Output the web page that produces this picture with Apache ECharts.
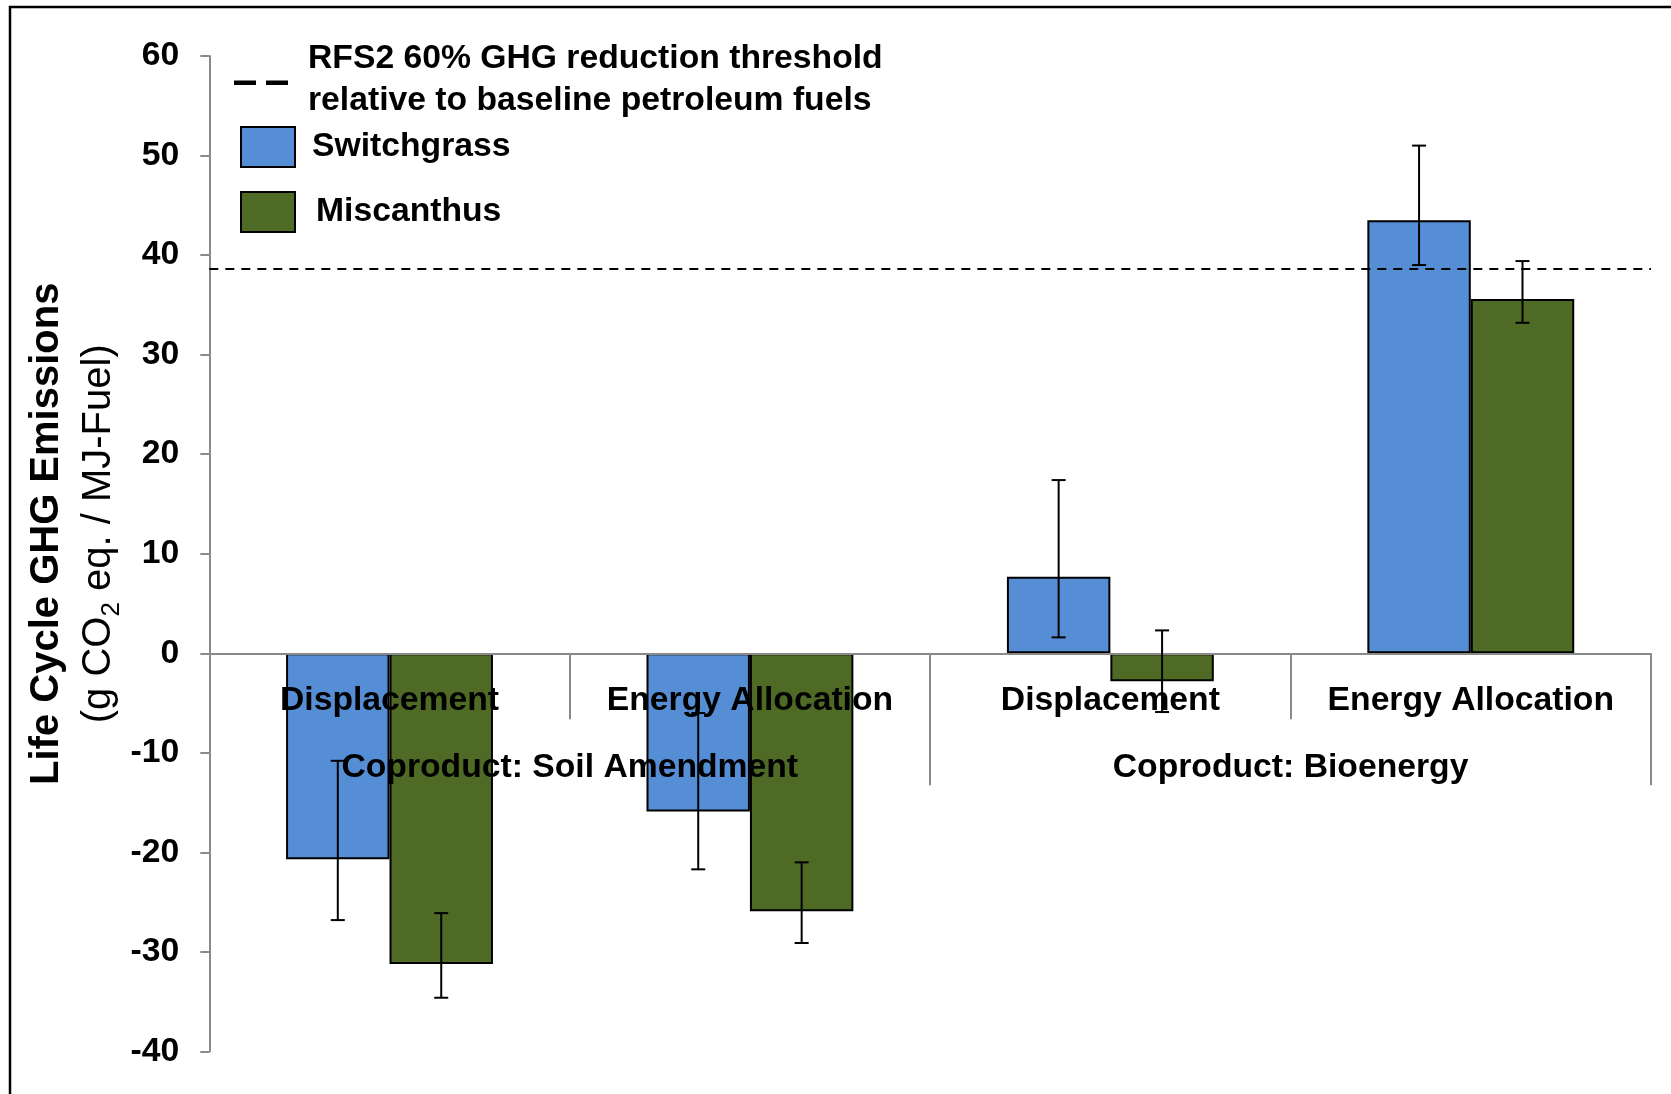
<!DOCTYPE html>
<html>
<head>
<meta charset="utf-8">
<title>Life Cycle GHG Emissions</title>
<script src="https://cdn.jsdelivr.net/npm/echarts@6/dist/echarts.min.js"></script>
<style>
  html, body { margin: 0; padding: 0; background: #fff; }
  #chart { width: 1671px; height: 1094px; }
</style>
</head>
<body>
<div id="chart"></div>
<script>
// Coproduct handling methods (inner axis) and coproduct groups (outer axis)
const categories = ['Displacement', 'Energy Allocation', 'Displacement', 'Energy Allocation'];
const groups = ['Coproduct: Soil Amendment', 'Coproduct: Bioenergy'];

// Life cycle GHG emissions, g CO2 eq. / MJ-Fuel
const switchgrass = [-20.7, -15.9, 7.7, 43.5];
const miscanthus = [-31.2, -25.9, -2.8, 35.6];

// Uncertainty ranges (lower / upper ends of the error bars)
const switchgrassLow = [-26.8, -21.7, 1.6, 39.0];
const switchgrassHigh = [-10.8, -6.0, 17.4, 51.0];
const miscanthusLow = [-34.6, -29.1, -5.9, 33.2];
const miscanthusHigh = [-26.1, -21.0, 2.3, 39.4];

// RFS2 threshold value
const threshold = 38.6;
const thresholdName = 'RFS2 60% GHG reduction threshold\nrelative to baseline petroleum fuels';

// Value axis range
const yMin = -40;
const yMax = 60;
const yStep = 10;

const FONT = "'Liberation Sans', Arial, sans-serif";
const FS = 33.7;
const GREY = '#8a8a8a';
const BLUE = '#558ED5';
const GREEN = '#4F6A24';
const CATEGORY_GAP = 0.426;

// Plot area
const CHART_H = 1094;
const GRID = { left: 209.3, right: 20, top: 56, bottom: 42.5 };
// Category labels hang from the zero line: convert their distance below zero
// into a margin measured from the bottom edge of the plot area.
const zeroFromBottom = (0 - yMin) / (yMax - yMin) * (CHART_H - GRID.top - GRID.bottom);
const labelMargin = (belowZero) => belowZero - zeroFromBottom;

function errorSeries(name, lows, highs, side) {
  return {
    type: 'custom',
    name: name,
    xAxisIndex: 0,
    yAxisIndex: 0,
    z: 4,
    silent: true,
    data: lows.map((lo, i) => [i, lo, highs[i]]),
    renderItem: function (params, api) {
      const top = api.coord([api.value(0), api.value(2)]);
      const bottom = api.coord([api.value(0), api.value(1)]);
      const band = api.size([1, 0])[0];
      const barW = band * (1 - CATEGORY_GAP) / 2;
      const x = top[0] + side * barW / 2;
      const cap = 7;
      const style = { stroke: '#000', lineWidth: 2, fill: null };
      return {
        type: 'group',
        children: [
          { type: 'line', shape: { x1: x, y1: top[1], x2: x, y2: bottom[1] }, style: style },
          { type: 'line', shape: { x1: x - cap, y1: top[1], x2: x + cap, y2: top[1] }, style: style },
          { type: 'line', shape: { x1: x - cap, y1: bottom[1], x2: x + cap, y2: bottom[1] }, style: style }
        ]
      };
    }
  };
}

const legendText = {
  fontFamily: FONT,
  fontSize: FS,
  fontWeight: 'bold',
  color: '#000'
};

const chart = echarts.init(document.getElementById('chart'), null, { renderer: 'canvas' });

chart.setOption({
  backgroundColor: '#fff',
  animation: false,
  graphic: [{
    type: 'rect',
    silent: true,
    z: 100,
    shape: { x: 10, y: 7, width: 1700, height: 1120 },
    style: { fill: null, stroke: '#000', lineWidth: 2.5 }
  }],
  grid: {
    left: GRID.left, right: GRID.right, top: GRID.top, bottom: GRID.bottom,
    containLabel: false,
    outerBoundsMode: 'none'
  },
  legend: [
    {
      data: [{
        name: thresholdName,
        icon: 'path://M0,21h22v4.5h-22z M32,21h22v4.5h-22z M0,0 M69,40',
        itemStyle: { borderWidth: 0, color: '#000' }
      }],
      left: 234, top: 38, padding: 0,
      itemWidth: 69, itemHeight: 40,
      selectedMode: false,
      textStyle: Object.assign({ lineHeight: 41.5 }, legendText)
    },
    {
      data: [{ name: 'Switchgrass', icon: 'path://M0,0h54v40h-54z M66,20' }],
      left: 240, top: 126, padding: 0,
      itemWidth: 66, itemHeight: 40,
      selectedMode: false,
      textStyle: legendText
    },
    {
      data: [{ name: 'Miscanthus', icon: 'path://M0,0h54v40h-54z M70,20' }],
      left: 240, top: 191, padding: 0,
      itemWidth: 70, itemHeight: 40,
      selectedMode: false,
      textStyle: legendText
    }
  ],
  xAxis: [
    {
      type: 'category',
      data: categories,
      position: 'bottom',
      z: 3,
      axisLine: { show: true, onZero: true, lineStyle: { color: GREY, width: 2 } },
      axisTick: { show: true, interval: 0, length: 66, lineStyle: { color: GREY, width: 2 } },
      axisLabel: {
        interval: 0, margin: labelMargin(30), lineHeight: 34,
        hideOverlap: false,
        fontFamily: FONT, fontSize: FS, fontWeight: 'bold', color: '#000'
      },
      splitLine: { show: false }
    },
    {
      type: 'category',
      data: groups,
      position: 'bottom',
      z: 3,
      axisLine: { show: false, onZero: true, onZeroAxisIndex: 0 },
      axisTick: { show: true, interval: 0, length: 132, lineStyle: { color: GREY, width: 2 } },
      axisLabel: {
        interval: 0, margin: labelMargin(97), lineHeight: 34,
        hideOverlap: false,
        fontFamily: FONT, fontSize: FS, fontWeight: 'bold', color: '#000'
      },
      splitLine: { show: false }
    }
  ],
  yAxis: {
    type: 'value',
    min: yMin, max: yMax, interval: yStep,
    name: '{t|Life Cycle GHG Emissions}\n{u|(g CO}{s|2}{u| eq. / MJ-Fuel)}',
    nameLocation: 'middle',
    nameRotate: 90,
    nameGap: 84,
    nameMoveOverlap: false,
    nameTextStyle: {
      padding: [0, 0, 0, 40],
      rich: {
        t: { fontFamily: FONT, fontSize: 40, fontWeight: 'bold', color: '#000', lineHeight: 52 },
        u: { fontFamily: FONT, fontSize: 40, color: '#000', lineHeight: 52 },
        s: { fontFamily: FONT, fontSize: 26, color: '#000', lineHeight: 30, verticalAlign: 'bottom' }
      }
    },
    axisLine: { show: true, lineStyle: { color: GREY, width: 2 } },
    axisTick: { show: true, length: 9, lineStyle: { color: GREY, width: 2 } },
    axisLabel: { margin: 30, fontFamily: FONT, fontSize: FS, fontWeight: 'bold', color: '#000' },
    splitLine: { show: false }
  },
  series: [
    {
      name: 'Switchgrass',
      type: 'bar',
      data: switchgrass,
      barGap: '0%',
      barCategoryGap: (CATEGORY_GAP * 100) + '%',
      itemStyle: { color: BLUE, borderColor: '#000', borderWidth: 2 }
    },
    {
      name: 'Miscanthus',
      type: 'bar',
      data: miscanthus,
      barGap: '0%',
      barCategoryGap: (CATEGORY_GAP * 100) + '%',
      itemStyle: { color: GREEN, borderColor: '#000', borderWidth: 2 }
    },
    errorSeries('Switchgrass range', switchgrassLow, switchgrassHigh, -1),
    errorSeries('Miscanthus range', miscanthusLow, miscanthusHigh, 1),
    {
      name: thresholdName,
      type: 'line',
      data: [],
      color: '#000',
      itemStyle: { color: '#000' },
      lineStyle: { color: '#000', type: 'dashed', width: 2 },
      markLine: {
        silent: true,
        symbol: 'none',
        label: { show: false },
        lineStyle: { color: '#000', type: [9, 7], width: 2 },
        data: [{ yAxis: threshold }]
      }
    }
  ]
});
</script>
</body>
</html>
